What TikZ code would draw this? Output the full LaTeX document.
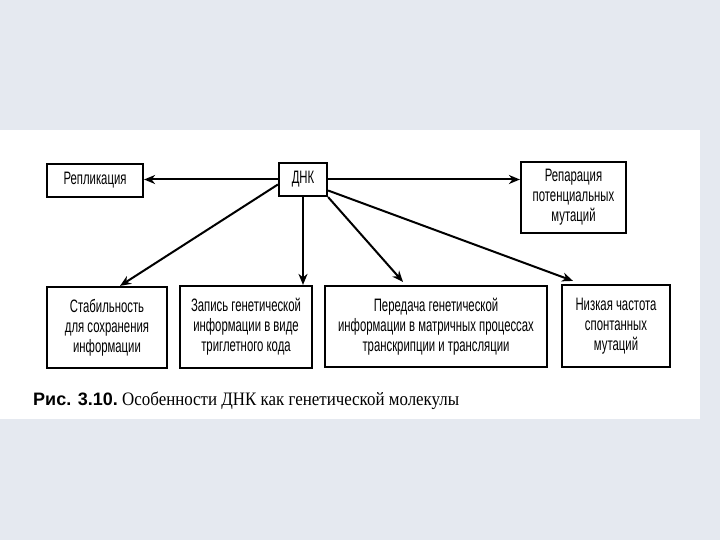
\documentclass[tikz,border=0pt]{standalone}
\usepackage{fontspec}
\setmainfont{Liberation Serif}
\newfontfamily\boxfont[FakeStretch=0.63]{Liberation Sans}
\newfontfamily\capsans{Liberation Sans}
\newfontfamily\capserif[FakeStretch=0.89]{Liberation Serif}
\usetikzlibrary{arrows.meta}
\definecolor{bgpaper}{HTML}{E5E9F0}
\begin{document}
\begin{tikzpicture}[x=1pt,y=-1pt,
  box/.style={draw,line width=2.2pt,rectangle,inner sep=0pt,align=center,
    font=\boxfont\fontsize{18}{20}\selectfont},
  arr/.style={line width=2pt,-{Stealth[length=11pt,width=9pt,inset=3.5pt]}}]
\useasboundingbox (0,0) rectangle (720,540);
\fill[bgpaper] (0,0) rectangle (720,540);
\fill[white] (0,130) rectangle (700,419);
\node[box,minimum width=96pt,minimum height=33pt] (rep) at (95,180.5) {Репликация};
\node[box,minimum width=48pt,minimum height=33pt] (dnk) at (303,179.5) {ДНК};
\node[box,minimum width=105pt,minimum height=71pt] (repar) at (573.5,197.5) {Репарация\\потенциальных\\мутаций};
\node[box,minimum width=120pt,minimum height=81pt] (stab) at (107,327.5) {Стабильность\\для сохранения\\информации};
\node[box,minimum width=132pt,minimum height=82pt] (zap) at (246,327) {Запись генетической\\информации в виде\\триглетного кода};
\node[box,minimum width=222pt,minimum height=81pt] (per) at (436,326.5) {Передача генетической\\информации в матричных процессах\\транскрипции и трансляции};
\node[box,minimum width=108pt,minimum height=82pt] (niz) at (616,326) {Низкая частота\\спонтанных\\мутаций};
\draw[arr] (dnk.west) -- (rep.east |- dnk.west);
\draw[arr] (dnk.east) -- (repar.west |- dnk.east);
\draw[arr] ([yshift=-5pt]dnk.west) -- ([xshift=13pt]stab.north);
\draw[arr] (dnk.south) -- (dnk.south |- zap.north);
\draw[arr] (dnk.south east) -- ([xshift=-33pt,yshift=3pt]per.north);
\draw[arr] ([yshift=-11pt]dnk.east) -- ([xshift=-43pt,yshift=3pt]niz.north);
\node[anchor=base west,inner sep=0pt] (cap) at (33,405)
  {{\capsans\bfseries\fontsize{18}{20}\selectfont Рис. 3.10.}\capserif\fontsize{19}{20}\selectfont\ Особенности ДНК как генетической молекулы};
\end{tikzpicture}
\end{document}
